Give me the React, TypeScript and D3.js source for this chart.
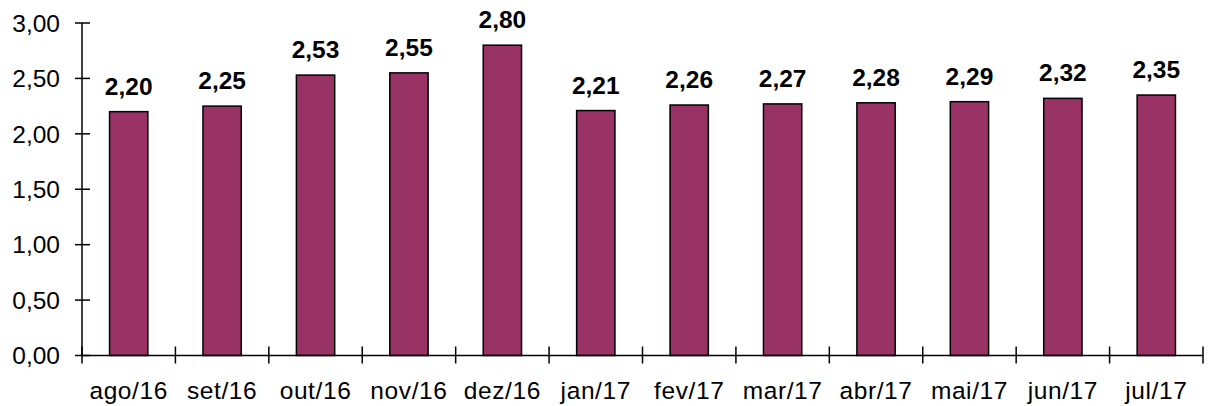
import React from "react";
import * as d3 from "d3";

const categories = ["ago/16", "set/16", "out/16", "nov/16", "dez/16", "jan/17", "fev/17", "mar/17", "abr/17", "mai/17", "jun/17", "jul/17"];
const values = [2.2, 2.25, 2.53, 2.55, 2.8, 2.21, 2.26, 2.27, 2.28, 2.29, 2.32, 2.35];
const yTicks = [0, 0.5, 1, 1.5, 2, 2.5, 3];

const W = 1208;
const H = 406;
const left = 82;
const right = 1203;
const top = 23;
const bottom = 355.5;
const font = "'Liberation Sans', Arial, sans-serif";
const fmt = (v: number) => v.toFixed(2).replace(".", ",");

export default function App() {
  const x = d3.scaleBand<string>().domain(categories).range([left, right]).paddingInner(0.59).paddingOuter(0.295);
  const step = (right - left) / categories.length;
  const y = d3.scaleLinear().domain([0, 3]).range([bottom, top]);
  const bounds = d3.range(categories.length + 1).map((i) => left + i * step);

  return (
    <svg width={W} height={H} style={{ position: "absolute", left: 0, top: 0, background: "#fff" }} fontFamily={font}>
      {values.map((v, i) => (
        <g key={i}>
          <rect
            x={x(categories[i])}
            y={y(v)}
            width={x.bandwidth()}
            height={y(0) - y(v)}
            fill="#993366"
            stroke="#000"
            strokeWidth={1.5}
          />
          <text
            x={(x(categories[i]) as number) + x.bandwidth() / 2}
            y={y(v) - 17}
            textAnchor="middle"
            fontWeight="bold"
            fontSize={24.5}
            fill="#000"
          >
            {fmt(v)}
          </text>
          <text
            x={(x(categories[i]) as number) + x.bandwidth() / 2}
            y={399}
            textAnchor="middle"
            fontSize={24.5}
            letterSpacing={0.6}
            fill="#000"
          >
            {categories[i]}
          </text>
        </g>
      ))}
      <line x1={left} x2={left} y1={top} y2={bottom} stroke="#000" strokeWidth={1.5} />
      <line x1={left} x2={right} y1={bottom} y2={bottom} stroke="#000" strokeWidth={1.5} />
      {yTicks.map((t) => (
        <g key={t}>
          <line x1={left - 7} x2={left + 8} y1={y(t)} y2={y(t)} stroke="#000" strokeWidth={1.5} />
          <text x={60} y={y(t)} dy="0.36em" textAnchor="end" fontSize={24.5} fill="#000">
            {fmt(t)}
          </text>
        </g>
      ))}
      {bounds.map((b, i) => (
        <line key={i} x1={b} x2={b} y1={bottom - 9} y2={bottom + 8} stroke="#000" strokeWidth={1.5} />
      ))}
    </svg>
  );
}
